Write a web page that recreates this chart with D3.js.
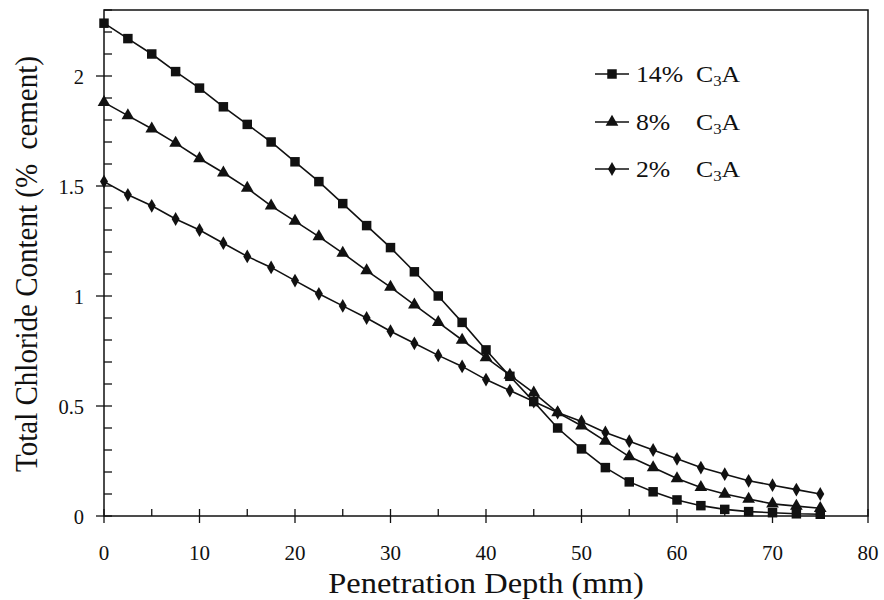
<!DOCTYPE html>
<html><head><meta charset="utf-8">
<script src="https://cdn.jsdelivr.net/npm/d3@7"></script>
<style>body{margin:0;background:#fff}svg{display:block}</style>
</head><body><svg id="c" width="884" height="600"></svg>
<script>
const depths = d3.range(0, 75.01, 2.5);
const c3a14 = [2.24,2.17,2.10,2.02,1.945,1.86,1.78,1.70,1.61,1.52,1.42,1.32,1.22,1.11,1.00,0.88,0.755,0.635,0.52,0.40,0.305,0.22,0.155,0.11,0.073,0.047,0.03,0.02,0.015,0.01,0.008];
const c3a8  = [1.88,1.82,1.76,1.695,1.625,1.56,1.49,1.41,1.34,1.27,1.195,1.115,1.04,0.96,0.88,0.80,0.72,0.64,0.56,0.47,0.41,0.34,0.27,0.22,0.17,0.13,0.10,0.077,0.055,0.045,0.035];
const c3a2  = [1.52,1.46,1.41,1.35,1.30,1.24,1.18,1.13,1.07,1.01,0.955,0.90,0.84,0.785,0.73,0.68,0.62,0.57,0.52,0.47,0.43,0.38,0.34,0.30,0.26,0.22,0.19,0.16,0.14,0.12,0.10];
const seriesNames = ["14%", "8%", "2%"];
const seriesSymbols = ["square", "triangle", "diamond"];
const xTicks = [0,10,20,30,40,50,60,70,80];
const yTicks = [0,0.5,1,1.5,2];
const xTitle = "Penetration Depth (mm)";
const yTitle = "Total Chloride Content (%\u00a0\u00a0cement)";

const FONT = '"Liberation Serif","Tinos","Times New Roman","Nimbus Roman","DejaVu Serif",serif';
const svg = d3.select("#c");
const L=104, R=868, T=10, B=516;
const x = d3.scaleLinear().domain([0,80]).range([L,R]);
const y = d3.scaleLinear().domain([0,2.3]).range([B,T]);
const ink = "#111";

function txt(parent, px, py, str, size, anchor, sx, rot) {
  return parent.append("text")
    .attr("transform", `translate(${px},${py}) scale(${sx},1)` + (rot ? ` rotate(${rot})` : ""))
    .attr("font-family", FONT).attr("font-size", size).attr("fill", ink)
    .attr("text-anchor", anchor || "start").text(str);
}

// frame
svg.append("rect").attr("x",L).attr("y",T).attr("width",R-L).attr("height",B-T)
  .attr("fill","none").attr("stroke",ink).attr("stroke-width",1.5);

// x ticks
const gx = svg.append("g");
d3.range(0,80.1,5).forEach(v=>{
  const major = v%10===0;
  gx.append("line").attr("x1",x(v)).attr("x2",x(v))
    .attr("y1",major?B+7:B).attr("y2",B-7).attr("stroke",ink).attr("stroke-width",1.3);
});
xTicks.forEach(d=>txt(gx, x(d), 560, d, 21, "middle", 1));

// y ticks
const gy = svg.append("g");
d3.range(0,2.31,0.1).forEach(v=>{
  const r = Math.round(v*10);
  const major = r%5===0;
  gy.append("line").attr("x1",major?L-8:L).attr("x2",L+8)
    .attr("y1",y(v)).attr("y2",y(v)).attr("stroke",ink).attr("stroke-width",1.3);
});
yTicks.forEach(d=>txt(gy, 84, y(d)+7.5, d, 20.5, "end", 1));

// titles
txt(svg, 486, 593, xTitle, 29, "middle", 1.12);
txt(svg, 37, 264, yTitle, 29, "middle", 1.08, -90);

// series
const sets = [c3a14, c3a8, c3a2];
const symType = {square:d3.symbolSquare, triangle:d3.symbolTriangle, diamond:d3.symbolDiamond};
const symSize = {square:90, triangle:70, diamond:55};
const line = d3.line().x((d,i)=>x(depths[i])).y(d=>y(d));
sets.forEach((vals,si)=>{
  const g = svg.append("g");
  g.append("path").attr("d",line(vals)).attr("fill","none").attr("stroke",ink).attr("stroke-width",1.6);
  const s = seriesSymbols[si];
  g.selectAll("path.m").data(vals).join("path").attr("class","m")
    .attr("transform",(d,i)=>`translate(${x(depths[i])},${y(d)})`)
    .attr("d",d3.symbol().type(symType[s]).size(symSize[s])).attr("fill",ink);
});

// legend
const legY = [74,122,169];
seriesNames.forEach((n,i)=>{
  const g = svg.append("g");
  g.append("line").attr("x1",595).attr("x2",629).attr("y1",legY[i]).attr("y2",legY[i]).attr("stroke",ink).attr("stroke-width",1.6);
  const s = seriesSymbols[i];
  g.append("path").attr("transform",`translate(612,${legY[i]})`).attr("d",d3.symbol().type(symType[s]).size(symSize[s])).attr("fill",ink);
  txt(g, 636, legY[i]+8, n, 23, "start", 1.12);
  const t = txt(g, 696, legY[i]+8, "", 23, "start", 1.12);
  t.append("tspan").text("C");
  t.append("tspan").attr("font-size",15).attr("dy",4).text("3");
  t.append("tspan").attr("dy",-4).text("A");
});
</script></body></html>
